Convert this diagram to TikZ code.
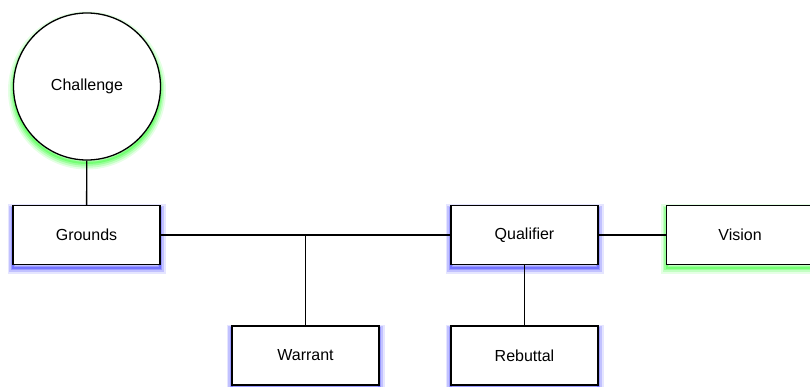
\documentclass[tikz,border=0pt]{standalone}
\usepackage{fontspec}
\setmainfont{Liberation Sans}
\usepackage{tikz}
\tikzstyle{glow}=[preaction={draw=#1,opacity=0.10,line width=11pt,transform canvas={yshift=-4pt}},
  preaction={draw=#1,opacity=0.15,line width=7.5pt,transform canvas={yshift=-4pt}},
  preaction={draw=#1,opacity=0.20,line width=4.5pt,transform canvas={yshift=-3.5pt}},
  preaction={draw=#1,opacity=0.25,line width=2pt,transform canvas={yshift=-3pt}}]
\tikzstyle{plain}=[draw,line width=1.3pt,fill=white,inner sep=0pt,font=\fontsize{16}{19}\selectfont]
\tikzstyle{box}=[plain,rectangle,minimum width=147pt,minimum height=59pt,glow=blue]
\tikzstyle{greenbox}=[plain,rectangle,minimum width=147pt,minimum height=59pt,glow=green]
\tikzstyle{bubble}=[plain,circle,minimum size=147pt,glow=green]

\begin{document}
\begin{tikzpicture}[x=1pt,y=-1pt]
      \fill[white] (0,0) rectangle (810,387);
      \useasboundingbox (0,0) rectangle (810,387);
      \node[bubble] (challenge) at (87, 86.5) {Challenge};
      \node[box] (grounds) at (86.5, 235) {Grounds};
      \node[box] (qualifier) at (524.5, 235) {Qualifier};
      \node[greenbox] (vision) at (740, 235) {Vision};
      \node[box] (warrant) at (305.5, 355.5) {Warrant};
      \node[box] (rebuttal) at (524.5, 355.5) {Rebuttal};
      \coordinate (join) at (305.5, 235);

      \draw[line width=1.3pt] (challenge) -- (grounds);
      \draw[line width=1.3pt] (grounds) -- (join) -- (qualifier);
      \draw[line width=1.3pt] (join) -- (warrant);
      \draw[line width=1.3pt] (qualifier) -- (rebuttal);
      \draw[line width=1.3pt] (qualifier) -- (vision);
\end{tikzpicture}
\end{document}
